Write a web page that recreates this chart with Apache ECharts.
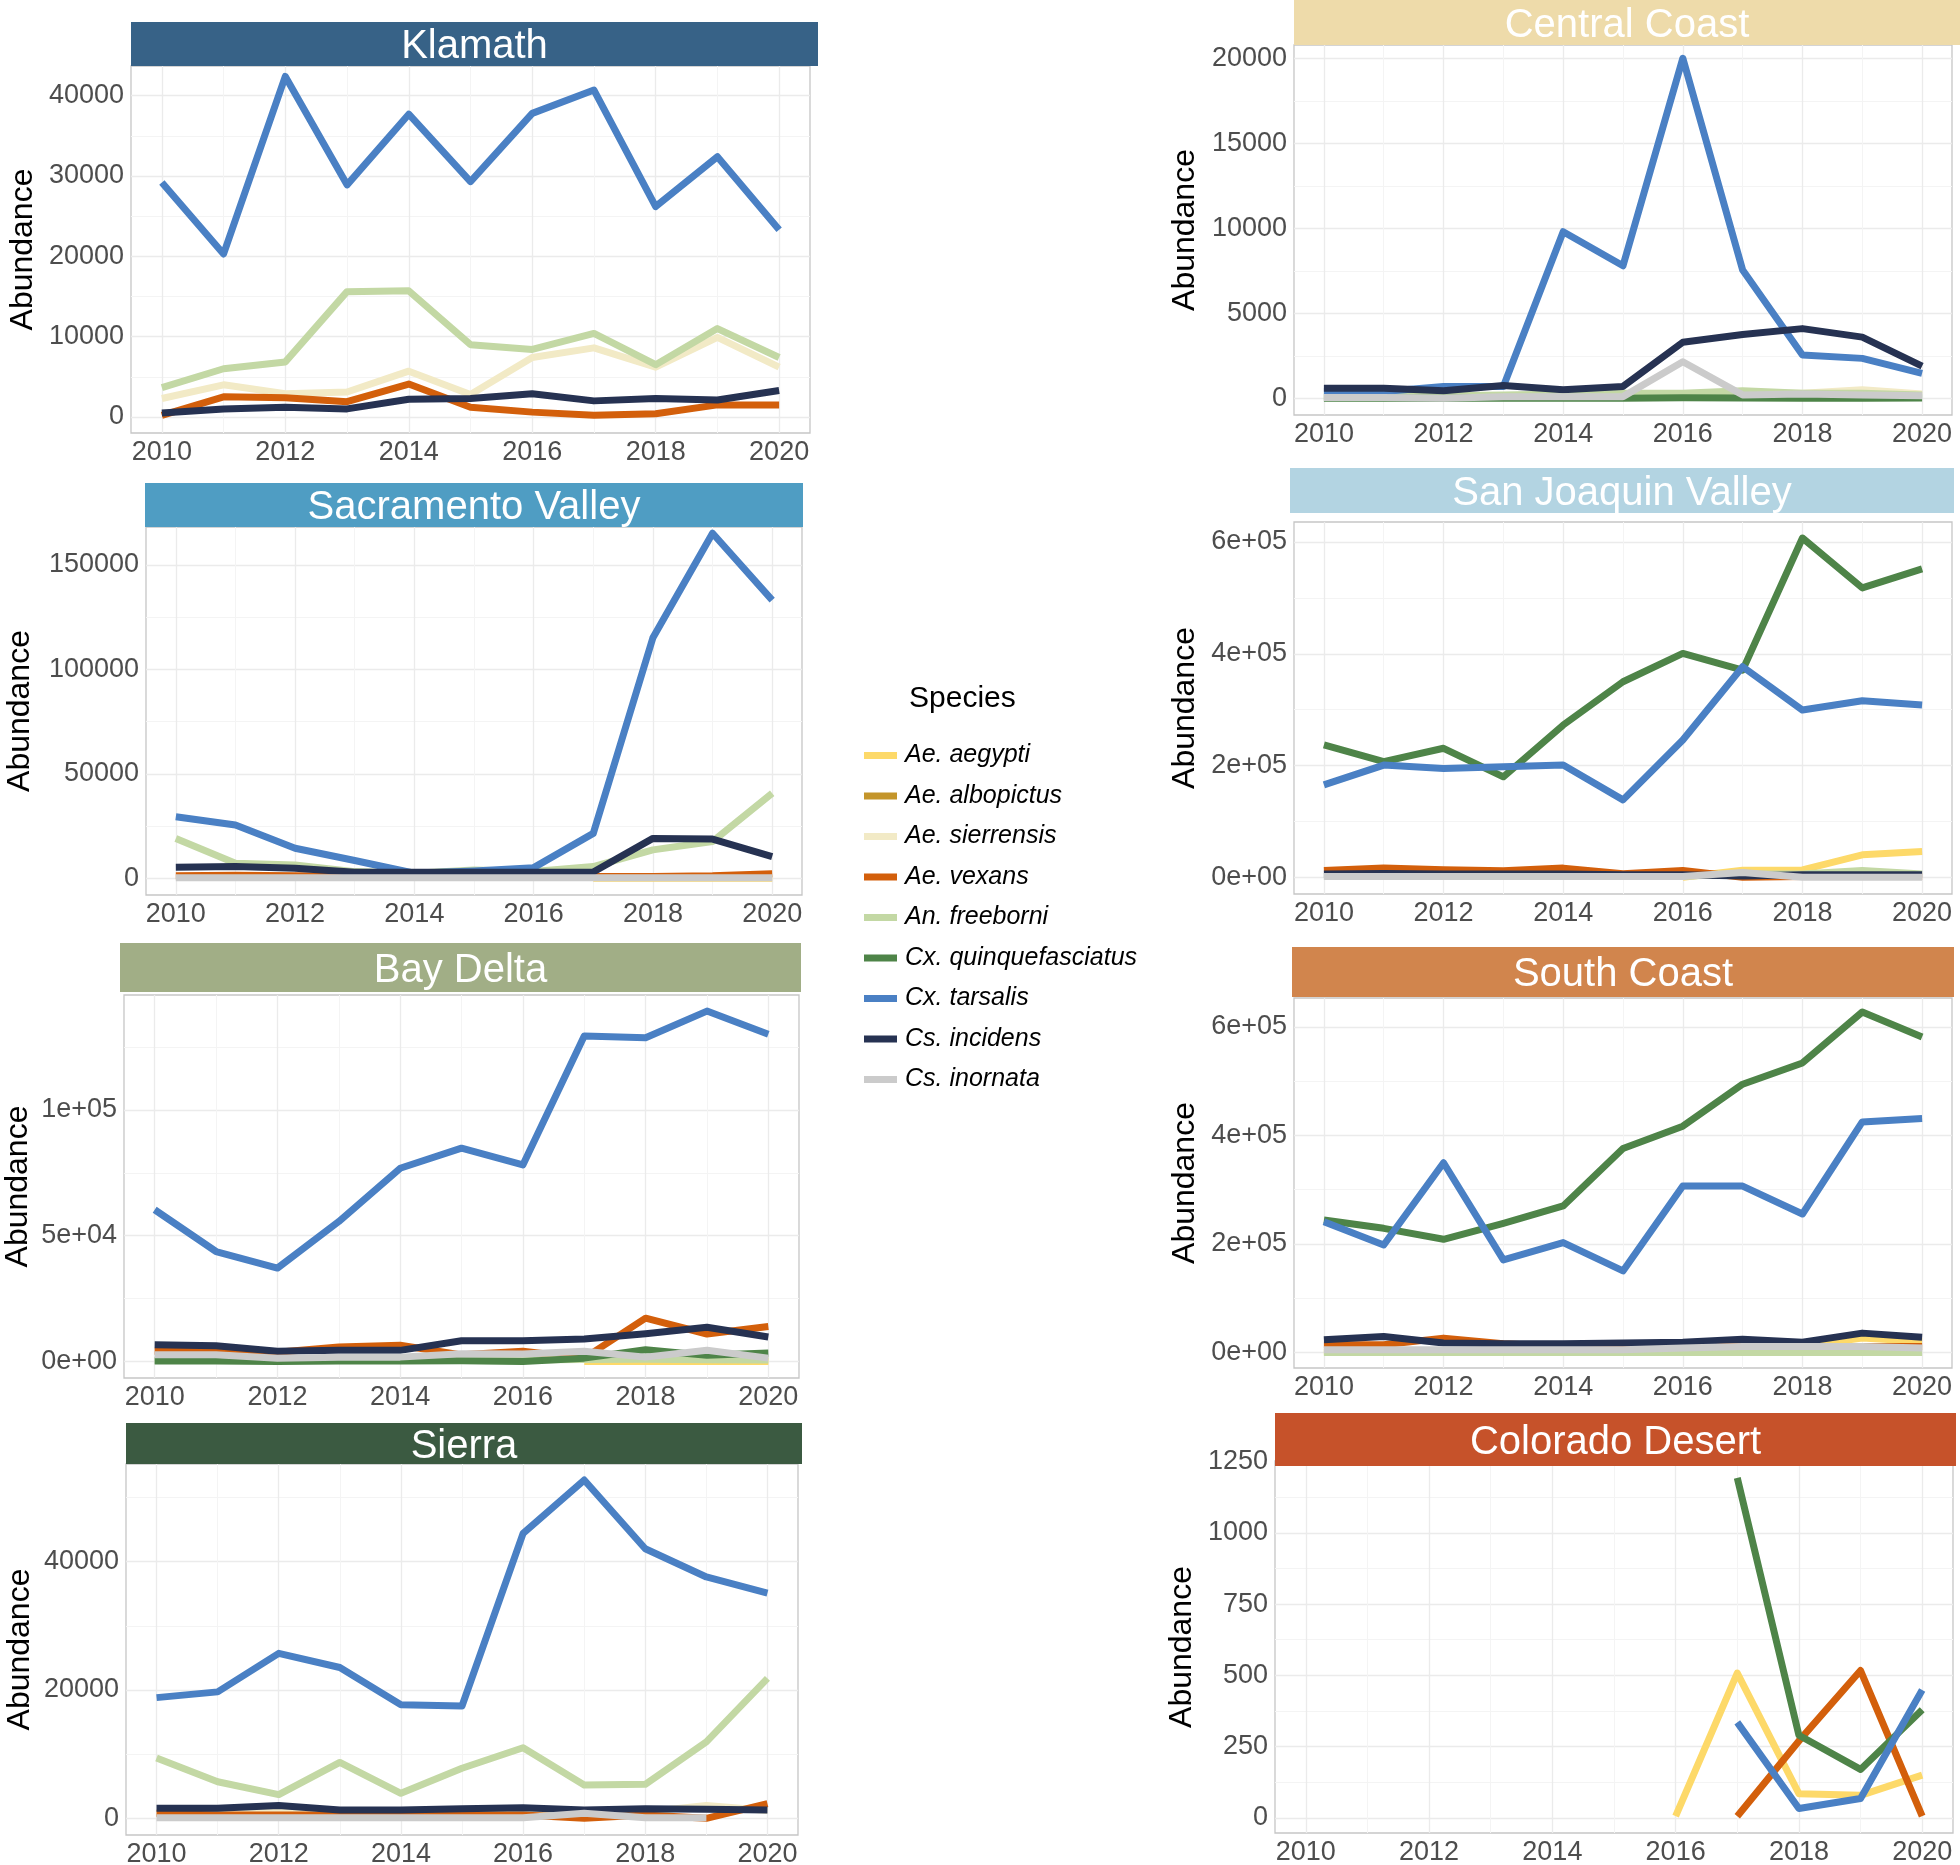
<!DOCTYPE html>
<html><head><meta charset="utf-8">
<script src="https://cdn.jsdelivr.net/npm/echarts@6.0.0/dist/echarts.min.js"></script>
<style>html,body{margin:0;padding:0;background:#fff}#c{width:1960px;height:1865px}</style>
</head><body><div id="c"></div>
<script>
const N = null;
const YEARS = [2010, 2011, 2012, 2013, 2014, 2015, 2016, 2017, 2018, 2019, 2020];
const X_TICKS = [2010, 2012, 2014, 2016, 2018, 2020];
const X_LABELS = ['2010', '2012', '2014', '2016', '2018', '2020'];
const SPECIES = ['Ae. aegypti', 'Ae. albopictus', 'Ae. sierrensis', 'Ae. vexans', 'An. freeborni',
  'Cx. quinquefasciatus', 'Cx. tarsalis', 'Cs. incidens', 'Cs. inornata'];
const SPECIES_COLORS = ['#FDD969', '#C4952A', '#F2EAC6', '#D35F0B', '#C3D8A4', '#4E8448', '#4A80C4', '#263252', '#CBCBCB'];
const REGIONS = ['Klamath', 'Central Coast', 'Sacramento Valley', 'San Joaquin Valley', 'Bay Delta', 'South Coast', 'Sierra', 'Colorado Desert'];
const REGION_COLORS = ['#376287', '#EEDBAA', '#4F9DC3', '#B3D4E2', '#A1AE86', '#D1854D', '#3B5A41', '#C6522A'];

// ---- Klamath ----
const KLA_SIERRENSIS = [2300, 4000, 2900, 3100, 5700, 2800, 7400, 8600, 6200, 9900, 6200];
const KLA_VEXANS     = [200, 2500, 2400, 1900, 4100, 1200, 600, 200, 400, 1500, 1500];
const KLA_FREEBORNI  = [3650, 6000, 6850, 15600, 15700, 9000, 8400, 10400, 6500, 11000, 7400];
const KLA_TARSALIS   = [29200, 20300, 42400, 28900, 37700, 29300, 37800, 40700, 26200, 32400, 23300];
const KLA_INCIDENS   = [500, 1000, 1200, 1000, 2200, 2300, 2900, 2000, 2300, 2100, 3300];
const KLA_YTICKS = [0, 10000, 20000, 30000, 40000];
const KLA_YLABELS = ['0', '10000', '20000', '30000', '40000'];

// ---- Central Coast ----
const CC_SIERRENSIS = [150, 150, 150, 150, 150, 200, 250, 300, 300, 500, 250];
const CC_FREEBORNI  = [100, 100, 150, 200, 250, 300, 300, 450, 300, 300, 200];
const CC_QUINQUE    = [0, 0, 0, 0, 0, 10, 30, 20, 10, 10, 20];
const CC_TARSALIS   = [400, 400, 700, 700, 9800, 7800, 20000, 7550, 2550, 2350, 1470];
const CC_INCIDENS   = [600, 600, 450, 750, 500, 700, 3300, 3750, 4100, 3600, 1900];
const CC_INORNATA   = [50, 50, 0, 100, 100, 100, 2150, 200, 250, 200, 150];
const CC_YTICKS = [0, 5000, 10000, 15000, 20000];
const CC_YLABELS = ['0', '5000', '10000', '15000', '20000'];

// ---- Sacramento Valley ----
const SAC_AEGYPTI   = [N, N, N, N, N, N, N, 0, 0, 0, 0];
const SAC_VEXANS    = [1200, 1500, 1200, 1000, 900, 900, 900, 900, 900, 1200, 2200];
const SAC_FREEBORNI = [19100, 7200, 6400, 3200, 2400, 4000, 3200, 5600, 13600, 17600, 40700];
const SAC_TARSALIS  = [29500, 25500, 14400, 8500, 2400, 3500, 5100, 21500, 115200, 165200, 133200];
const SAC_INCIDENS  = [5300, 5600, 4800, 2900, 2900, 2900, 2900, 3000, 19100, 18800, 10400];
const SAC_INORNATA  = [200, 200, 200, 200, 200, 200, 200, 200, 200, 200, 200];
const SAC_YTICKS = [0, 50000, 100000, 150000];
const SAC_YLABELS = ['0', '50000', '100000', '150000'];

// ---- San Joaquin Valley ----
const SJV_AEGYPTI   = [N, N, N, N, N, N, 500, 13000, 13500, 40500, 46400];
const SJV_VEXANS    = [12500, 16700, 13700, 11900, 16700, 6500, 12500, 500, 1800, 1800, 1800];
const SJV_FREEBORNI = [2000, 2000, 2000, 2000, 2000, 2000, 2000, 6000, 6000, 12500, 6000];
const SJV_QUINQUE   = [236900, 207000, 231000, 180000, 272600, 350000, 400600, 370800, 607000, 517900, 552000];
const SJV_TARSALIS  = [165500, 201000, 195000, 198000, 201000, 138700, 245800, 376800, 299400, 316000, 308300];
const SJV_INCIDENS  = [6000, 7000, 6000, 6000, 6000, 5000, 5000, 2500, 5000, 5000, 5000];
const SJV_INORNATA  = [1800, 1800, 1800, 1800, 1800, 1800, 1800, 9000, 500, 500, 500];
const SJV_YTICKS = [0, 200000, 400000, 600000];
const SJV_YLABELS = ['0e+00', '2e+05', '4e+05', '6e+05'];

// ---- Bay Delta ----
const BD_AEGYPTI   = [N, N, N, N, N, N, N, 0, 0, 0, 0];
const BD_VEXANS    = [4000, 4000, 3600, 5700, 6400, 2600, 4000, 1300, 17200, 10900, 13900];
const BD_FREEBORNI = [500, 500, 300, 500, 500, 600, 600, 800, 900, 700, 600];
const BD_QUINQUE   = [200, 200, 0, 200, 200, 300, 0, 1300, 4600, 2400, 3300];
const BD_TARSALIS  = [60300, 43700, 37100, 55600, 76800, 84800, 78100, 129400, 128700, 139300, 130100];
const BD_INCIDENS  = [6600, 6200, 4000, 4400, 4400, 8200, 8200, 8900, 11000, 13600, 9700];
const BD_INORNATA  = [2600, 2600, 1300, 1700, 1700, 3000, 2900, 4000, 1700, 4400, 1300];
const BD_YTICKS = [0, 50000, 100000];
const BD_YLABELS = ['0e+00', '5e+04', '1e+05'];

// ---- South Coast ----
const SC_AEGYPTI   = [2000, 2000, 2000, 2000, 3000, 4000, 8000, 10000, 12000, 26400, 20000];
const SC_VEXANS    = [14000, 14000, 26400, 16000, 11000, 11000, 11000, 11000, 11000, 11000, 11000];
const SC_FREEBORNI = [0, 0, 0, 0, 0, 0, 0, 0, 0, 0, 0];
const SC_QUINQUE   = [244200, 228800, 208600, 238000, 270000, 376000, 417000, 494500, 533700, 627600, 581600];
const SC_TARSALIS  = [241000, 198000, 349700, 170600, 202500, 150300, 306700, 306700, 255200, 425000, 431300];
const SC_INCIDENS  = [23300, 29400, 17200, 16000, 16000, 17200, 19000, 24500, 19000, 35600, 28200];
const SC_INORNATA  = [5000, 5000, 5000, 5000, 5000, 5000, 8000, 11000, 11000, 11000, 8000];
const SC_YTICKS = [0, 200000, 400000, 600000];
const SC_YLABELS = ['0e+00', '2e+05', '4e+05', '6e+05'];

// ---- Sierra ----
const SIE_SIERRENSIS = [800, 800, 1200, 800, 800, 800, 800, 800, 1000, 2000, 1200];
const SIE_VEXANS     = [800, 500, 500, 500, 500, 500, 500, 0, 500, 0, 2300];
const SIE_FREEBORNI  = [9400, 5700, 3700, 8700, 3900, 7800, 11000, 5200, 5300, 11900, 21800];
const SIE_TARSALIS   = [18800, 19700, 25700, 23500, 17700, 17500, 44400, 52700, 42000, 37600, 35100];
const SIE_INCIDENS   = [1560, 1560, 2000, 1300, 1300, 1500, 1660, 1300, 1500, 1400, 1300];
const SIE_INORNATA   = [100, 100, 100, 100, 100, 100, 100, 800, 100, 100, N];
const SIE_YTICKS = [0, 20000, 40000];
const SIE_YLABELS = ['0', '20000', '40000'];

// ---- Colorado Desert ----
const COL_AEGYPTI  = [N, N, N, N, N, N, 6, 508, 85, 79, 150];
const COL_VEXANS   = [N, N, N, N, N, N, N, 6, 270, 517, 6];
const COL_QUINQUE  = [N, N, N, N, N, N, N, 1193, 290, 170, 379];
const COL_TARSALIS = [N, N, N, N, N, N, N, 335, 33, 68, 449];
const COL_YTICKS = [0, 250, 500, 750, 1000, 1250];
const COL_YLABELS = ['0', '250', '500', '750', '1000', '1250'];

const PANEL_SERIES = [
  [['Ae. albopictus', []], ['Ae. sierrensis', KLA_SIERRENSIS], ['Ae. vexans', KLA_VEXANS], ['An. freeborni', KLA_FREEBORNI], ['Cx. tarsalis', KLA_TARSALIS], ['Cs. incidens', KLA_INCIDENS]],
  [['Ae. sierrensis', CC_SIERRENSIS], ['An. freeborni', CC_FREEBORNI], ['Cx. quinquefasciatus', CC_QUINQUE], ['Cx. tarsalis', CC_TARSALIS], ['Cs. incidens', CC_INCIDENS], ['Cs. inornata', CC_INORNATA]],
  [['Ae. aegypti', SAC_AEGYPTI], ['Ae. vexans', SAC_VEXANS], ['An. freeborni', SAC_FREEBORNI], ['Cx. tarsalis', SAC_TARSALIS], ['Cs. incidens', SAC_INCIDENS], ['Cs. inornata', SAC_INORNATA]],
  [['Ae. aegypti', SJV_AEGYPTI], ['Ae. vexans', SJV_VEXANS], ['An. freeborni', SJV_FREEBORNI], ['Cx. quinquefasciatus', SJV_QUINQUE], ['Cx. tarsalis', SJV_TARSALIS], ['Cs. incidens', SJV_INCIDENS], ['Cs. inornata', SJV_INORNATA]],
  [['Ae. aegypti', BD_AEGYPTI], ['Ae. vexans', BD_VEXANS], ['An. freeborni', BD_FREEBORNI], ['Cx. quinquefasciatus', BD_QUINQUE], ['Cx. tarsalis', BD_TARSALIS], ['Cs. incidens', BD_INCIDENS], ['Cs. inornata', BD_INORNATA]],
  [['Ae. aegypti', SC_AEGYPTI], ['Ae. vexans', SC_VEXANS], ['An. freeborni', SC_FREEBORNI], ['Cx. quinquefasciatus', SC_QUINQUE], ['Cx. tarsalis', SC_TARSALIS], ['Cs. incidens', SC_INCIDENS], ['Cs. inornata', SC_INORNATA]],
  [['Ae. sierrensis', SIE_SIERRENSIS], ['Ae. vexans', SIE_VEXANS], ['An. freeborni', SIE_FREEBORNI], ['Cx. tarsalis', SIE_TARSALIS], ['Cs. incidens', SIE_INCIDENS], ['Cs. inornata', SIE_INORNATA]],
  [['Ae. aegypti', COL_AEGYPTI], ['Ae. vexans', COL_VEXANS], ['Cx. quinquefasciatus', COL_QUINQUE], ['Cx. tarsalis', COL_TARSALIS]]
];
const PANEL_YTICKS = [KLA_YTICKS, CC_YTICKS, SAC_YTICKS, SJV_YTICKS, BD_YTICKS, SC_YTICKS, SIE_YTICKS, COL_YTICKS];
const PANEL_YLABELS = [KLA_YLABELS, CC_YLABELS, SAC_YLABELS, SJV_YLABELS, BD_YLABELS, SC_YLABELS, SIE_YLABELS, COL_YLABELS];

// ---- layout (pixels) ----
const LAYOUT = [
  {gx: 131, gy: 66, gw: 679, gh: 367, ymin: -2000, ymax: 43700, sx: 131, sy: 22, sw: 687, sh: 44, nameGap: 92},
  {gx: 1294, gy: 45, gw: 658, gh: 370, ymin: -980, ymax: 20780, sx: 1294, sy: 0, sw: 666, sh: 45, nameGap: 93},
  {gx: 146, gy: 527, gw: 656, gh: 368, ymin: -8000, ymax: 168200, sx: 145, sy: 483, sw: 658, sh: 44, nameGap: 110},
  {gx: 1294, gy: 522, gw: 658, gh: 372, ymin: -29600, ymax: 635700, sx: 1290, sy: 468, sw: 664, sh: 45, nameGap: 93},
  {gx: 124, gy: 995, gw: 675, gh: 383, ymin: -6600, ymax: 145700, sx: 120, sy: 943, sw: 681, sh: 49, nameGap: 90},
  {gx: 1294, gy: 998, gw: 658, gh: 370, ymin: -28700, ymax: 653400, sx: 1292, sy: 947, sw: 662, sh: 50, nameGap: 93},
  {gx: 126, gy: 1464, gw: 672, gh: 371, ymin: -2600, ymax: 55200, sx: 126, sy: 1423, sw: 676, sh: 41, nameGap: 90},
  {gx: 1275, gy: 1461, gw: 678, gh: 372, ymin: -53, ymax: 1252, sx: 1275, sy: 1413, sw: 681, sh: 53, nameGap: 77}
];

const FONT = "'Liberation Sans', Arial, Helvetica, sans-serif";
const TICK_COLOR = '#4D4D4D';
const GRID_MAJOR = '#EBEBEB';
const GRID_MINOR = '#F4F4F4';

function minorTicks(ticks, min, max) {
  const step = ticks[1] - ticks[0];
  const out = [];
  for (let v = ticks[0] - step / 2; v <= max; v += step) if (v >= min) out.push(v);
  return out;
}

const grids = [], xAxes = [], yAxes = [], series = [], graphics = [];
LAYOUT.forEach((L, i) => {
  grids.push({left: L.gx, top: L.gy, width: L.gw, height: L.gh, show: true, backgroundColor: '#fff',
    borderColor: '#C6C6C6', borderWidth: 1.3, containLabel: false, outerBoundsMode: 'none'});
  xAxes.push({type: 'value', gridIndex: i, min: 2009.5, max: 2020.5, position: 'bottom',
    axisLine: {show: false}, axisTick: {show: false, customValues: X_TICKS},
    axisLabel: {customValues: X_TICKS, formatter: v => X_LABELS[X_TICKS.indexOf(v)], color: TICK_COLOR, fontSize: 27, margin: 6, fontFamily: FONT},
    splitLine: {show: true, lineStyle: {color: GRID_MAJOR, width: 1.3}}, minorSplitLine: {show: false}});
  xAxes.push({type: 'value', gridIndex: i, min: 2009.5, max: 2020.5, position: 'bottom',
    axisLine: {show: false}, axisTick: {show: false, customValues: minorTicks(X_TICKS, 2009.5, 2020.5)},
    axisLabel: {show: false}, splitLine: {show: true, lineStyle: {color: GRID_MINOR, width: 1}}});
  const yt = PANEL_YTICKS[i], yl = PANEL_YLABELS[i];
  yAxes.push({type: 'value', gridIndex: i, min: L.ymin, max: L.ymax, position: 'left',
    name: 'Abundance', nameLocation: 'middle', nameGap: L.nameGap, nameRotate: 90,
    nameTextStyle: {fontSize: 32, color: '#000', fontFamily: FONT},
    axisLine: {show: false}, axisTick: {show: false, customValues: yt},
    axisLabel: {customValues: yt, formatter: v => yl[yt.indexOf(v)], color: TICK_COLOR, fontSize: 27, margin: 7, fontFamily: FONT},
    splitLine: {show: true, lineStyle: {color: GRID_MAJOR, width: 1.3}}});
  yAxes.push({type: 'value', gridIndex: i, min: L.ymin, max: L.ymax, position: 'left',
    axisLine: {show: false}, axisTick: {show: false, customValues: minorTicks(yt, L.ymin, L.ymax)},
    axisLabel: {show: false}, splitLine: {show: true, lineStyle: {color: GRID_MINOR, width: 1}}});
  PANEL_SERIES[i].forEach(([name, arr]) => {
    const color = SPECIES_COLORS[SPECIES.indexOf(name)];
    series.push({type: 'line', name: name, xAxisIndex: 2 * i, yAxisIndex: 2 * i,
      data: arr.map((v, k) => [YEARS[k], v]), showSymbol: false, symbol: 'none',
      connectNulls: false, animation: false, silent: true,
      lineStyle: {color: color, width: 7, join: 'round', cap: 'butt'}, itemStyle: {color: color}});
  });
  graphics.push({type: 'rect', z: 100, shape: {x: L.sx, y: L.sy, width: L.sw, height: L.sh},
    style: {fill: REGION_COLORS[i]}});
  graphics.push({type: 'text', z: 101, x: L.sx + L.sw / 2, y: L.sy + L.sh / 2 + 3,
    style: {text: REGIONS[i], fill: '#fff', fontSize: 40, fontFamily: FONT, align: 'center', verticalAlign: 'middle'}});
});

graphics.push({type: 'text', z: 101, x: 909, y: 699,
  style: {text: 'Species', fill: '#000', fontSize: 30, fontFamily: FONT, align: 'left', verticalAlign: 'middle'}});

const chart = echarts.init(document.getElementById('c'), null, {renderer: 'canvas'});
chart.setOption({
  animation: false,
  backgroundColor: '#fff',
  textStyle: {fontFamily: FONT},
  grid: grids, xAxis: xAxes, yAxis: yAxes, series: series,
  legend: {orient: 'vertical', left: 859, top: 738, itemWidth: 33, itemHeight: 7, itemGap: 15.5,
    icon: 'rect', selectedMode: false, data: SPECIES,
    textStyle: {fontSize: 25, fontStyle: 'italic', color: '#000', lineHeight: 25, fontFamily: FONT, padding: [0, 0, 0, 3]}},
  graphic: graphics
});
</script></body></html>
